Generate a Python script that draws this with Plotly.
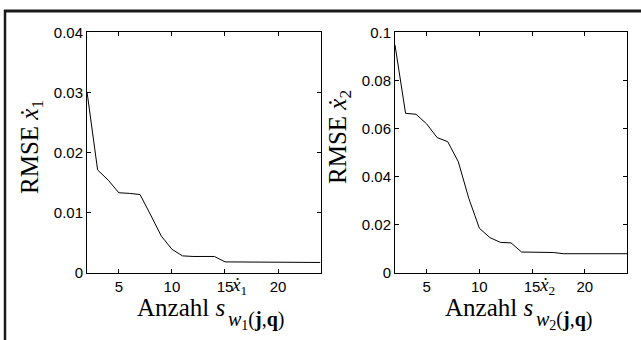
import plotly.graph_objects as go

x_vals = list(range(2, 25))
rmse_x1 = [0.0301, 0.0171, 0.0154, 0.0133, 0.0132, 0.0130, 0.0096, 0.0061, 0.0039, 0.0028,
           0.0027, 0.0027, 0.0027, 0.0018, 0.0018, 0.0018, 0.0018, 0.0018, 0.0017, 0.0017,
           0.0017, 0.0017, 0.0017]
rmse_x2 = [0.0947, 0.0663, 0.0659, 0.0619, 0.0562, 0.0545, 0.0462, 0.0309, 0.0185, 0.0146,
           0.0126, 0.0124, 0.0086, 0.0085, 0.0084, 0.0084, 0.0079, 0.0079, 0.0079, 0.0079,
           0.0079, 0.0079, 0.0079]
x_ticks = [5, 10, 15, 20]
y1_ticks = [0, 0.01, 0.02, 0.03, 0.04]
y2_ticks = [0, 0.02, 0.04, 0.06, 0.08, 0.1]

W, H = 641, 340
fig = go.Figure()
fig.add_trace(go.Scatter(x=x_vals, y=rmse_x1, mode="lines", line=dict(color="black", width=1),
                         xaxis="x", yaxis="y", showlegend=False))
fig.add_trace(go.Scatter(x=x_vals, y=rmse_x2, mode="lines", line=dict(color="black", width=1),
                         xaxis="x2", yaxis="y2", showlegend=False))

tickfont = dict(family="Liberation Sans, Arial", size=15, color="black")
common = dict(showline=True, linecolor="black", linewidth=1, mirror="ticks", ticks="inside",
              ticklen=4, tickcolor="black", showgrid=False, zeroline=False, tickfont=tickfont,
              automargin=False)

def px(xp):
    return xp / W

def py(yp):
    return 1 - yp / H

ydom = [py(272.7), py(32.3)]
fig.update_layout(
    width=W, height=H, margin=dict(l=0, r=0, t=0, b=0),
    paper_bgcolor="white", plot_bgcolor="white",
    xaxis=dict(domain=[px(87), px(320.5)], range=[2, 24], tickvals=x_ticks, anchor="y", **common),
    yaxis=dict(domain=ydom, range=[0, 0.04], tickvals=y1_ticks, anchor="x", **common),
    xaxis2=dict(domain=[px(395), px(627)], range=[2, 24], tickvals=x_ticks, anchor="y2", **common),
    yaxis2=dict(domain=ydom, range=[0, 0.1], tickvals=y2_ticks, anchor="x2", **common),
)

# frame lines
fig.add_shape(type="line", xref="paper", yref="paper", x0=px(4), x1=1, y0=py(11), y1=py(11),
              line=dict(color="#1a1a1a", width=3))
fig.add_shape(type="line", xref="paper", yref="paper", x0=px(5), x1=px(5), y0=py(10), y1=0,
              line=dict(color="#1a1a1a", width=2.5))

serif = "Liberation Serif, Times New Roman, serif"
annos = []
for off, idx, ycen in [(0, "1", 147), (308, "2", 137)]:
    annos.append(dict(text=f"RMSE <i>ẋ</i><sub>{idx}</sub>", textangle=-90, x=px(31 + off), y=py(ycen),
                      xref="paper", yref="paper", showarrow=False, xanchor="center", yanchor="middle",
                      font=dict(family=serif, size=25, color="black")))
    annos.append(dict(text="Anzahl <i>s</i>", x=px(135 + off), y=py(307), xref="paper", yref="paper",
                      showarrow=False, xanchor="left", yanchor="middle",
                      font=dict(family=serif, size=25, color="black")))
    annos.append(dict(text=f"<i>ẋ</i><sub>{idx}</sub>", x=px(229 + off), y=py(286), xref="paper", yref="paper",
                      showarrow=False, xanchor="left", yanchor="middle",
                      font=dict(family=serif, size=19, color="black")))
    annos.append(dict(text=f"<i>w</i><sub>{idx}</sub>(<b>j</b>,<b>q</b>)", x=px(226 + off), y=py(320),
                      xref="paper", yref="paper", showarrow=False, xanchor="left", yanchor="middle",
                      font=dict(family=serif, size=20, color="black")))
fig.update_layout(annotations=annos)

fig.write_html("out.html", config={"displayModeBar": False},
               post_script="document.body.style.margin='0';document.body.style.overflow='hidden';")
